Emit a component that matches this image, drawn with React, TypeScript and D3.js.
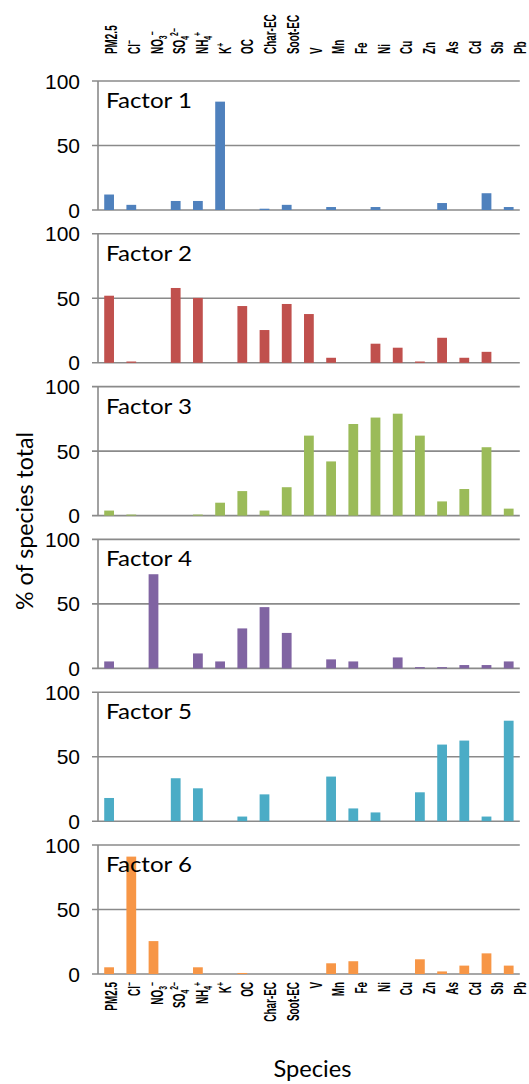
import React, { useEffect, useRef } from "react";
import * as d3 from "d3";

// species in chart order
const species = ["PM2.5", "Cl-", "NO3-", "SO42-", "NH4+", "K+", "OC", "Char-EC", "Soot-EC", "V", "Mn", "Fe", "Ni", "Cu", "Zn", "As", "Cd", "Sb", "Pb"];

// label pieces (sub / superscripts) for each species
type Seg = { t: string; k?: "sub" | "sup" };
const speciesLabels: Seg[][] = [
  [{ t: "PM2.5" }],
  [{ t: "Cl" }, { t: "\u2212", k: "sup" }],
  [{ t: "NO" }, { t: "3", k: "sub" }, { t: "\u2212", k: "sup" }],
  [{ t: "SO" }, { t: "4", k: "sub" }, { t: "2\u2212", k: "sup" }],
  [{ t: "NH" }, { t: "4", k: "sub" }, { t: "+", k: "sup" }],
  [{ t: "K" }, { t: "+", k: "sup" }],
  [{ t: "OC" }],
  [{ t: "Char-EC" }],
  [{ t: "Soot-EC" }],
  [{ t: "V" }],
  [{ t: "Mn" }],
  [{ t: "Fe" }],
  [{ t: "Ni" }],
  [{ t: "Cu" }],
  [{ t: "Zn" }],
  [{ t: "As" }],
  [{ t: "Cd" }],
  [{ t: "Sb" }],
  [{ t: "Pb" }],
];

const factorNames = ["Factor 1", "Factor 2", "Factor 3", "Factor 4", "Factor 5", "Factor 6"];
const factorColors = ["#4f81bd", "#c0504d", "#9bbb59", "#8064a2", "#4bacc6", "#f79646"];

// % of species total, one value per species
const factor1 = [12, 4, 0, 7, 7, 84, 0, 1, 4, 0, 2.3, 0, 2.3, 0, 0, 5.4, 0, 13, 2.3];
const factor2 = [52, 1, 0, 58, 50.3, 0, 44, 25.4, 45.6, 37.8, 3.9, 0, 14.8, 11.7, 1, 19.4, 3.9, 8.5, 0];
const factor3 = [3.9, 0.8, 0, 0, 0.8, 10, 19, 3.9, 22, 62, 42, 71, 76, 79, 62, 11, 20.6, 53, 5.4];
const factor4 = [5.4, 0, 73, 0, 11.6, 5.4, 31, 47.5, 27.5, 0, 7, 5.4, 0, 8.5, 1, 1, 2.6, 2.6, 5.4];
const factor5 = [18, 0, 0, 33.3, 25.5, 0, 3.6, 20.8, 0, 0, 34.6, 9.9, 6.8, 0, 22.4, 59.4, 62.5, 3.6, 77.9];
const factor6 = [5.2, 91, 25.5, 0, 5.2, 0, 0.8, 0, 0, 0, 8.3, 9.9, 0, 0, 11.4, 2, 6.5, 16, 6.5];
const factorValues = [factor1, factor2, factor3, factor4, factor5, factor6];

const yTicks = [0, 50, 100];

const GRID = "#8a8a8a";
const CALIBRI = "Lato, 'Open Sans', sans-serif";
const ARIAL = "'Liberation Sans', Arial, sans-serif";

function addLabel(sel: d3.Selection<SVGTextElement, unknown, null, undefined>, segs: Seg[]) {
  let shift = 0;
  segs.forEach((s) => {
    const target = s.k === "sub" ? 4 : s.k === "sup" ? -7 : 0;
    sel
      .append("tspan")
      .attr("dy", target - shift)
      .attr("font-size", s.k ? 11 : 16)
      .text(s.t);
    shift = target;
  });
}

export default function App() {
  const svgRef = useRef<SVGSVGElement>(null);

  useEffect(() => {
    const svg = d3.select(svgRef.current);
    svg.selectAll("*").remove();

    const left = 98;
    const right = 519.8;
    const firstTop = 81;
    const panelStep = 152.8;
    const panelH = 129;

    const x = d3.scaleBand<string>().domain(species).range([left, right]).padding(0);
    const barW = x.bandwidth() * 0.44;
    // category labels sit on a slightly wider spacing than the bars
    const labelX = d3.scalePoint<string>().domain(species).range([111.7, 520.5]);

    factorValues.forEach((vals, i) => {
      const top = firstTop + i * panelStep;
      const y = d3.scaleLinear().domain([0, 100]).range([top + panelH, top]);
      const g = svg.append("g");

      // gridlines + ticks
      g.selectAll("line.grid")
        .data(yTicks)
        .join("line")
        .attr("x1", left - 6)
        .attr("x2", right)
        .attr("y1", (d) => y(d))
        .attr("y2", (d) => y(d))
        .attr("stroke", GRID)
        .attr("stroke-width", 1.6);

      g.append("line")
        .attr("x1", left)
        .attr("x2", left)
        .attr("y1", y(100))
        .attr("y2", y(0))
        .attr("stroke", GRID)
        .attr("stroke-width", 1.6);

      g.selectAll("text.tick")
        .data(yTicks)
        .join("text")
        .attr("x", 80)
        .attr("y", (d) => y(d))
        .attr("dy", "0.36em")
        .attr("text-anchor", "end")
        .attr("font-family", ARIAL)
        .attr("font-size", 21)
        .attr("fill", "#000")
        .text((d) => d);

      // bars
      g.selectAll("rect")
        .data(vals)
        .join("rect")
        .attr("x", (_, j) => x(species[j])! + x.bandwidth() / 2 - barW / 2)
        .attr("width", barW)
        .attr("y", (d) => y(d))
        .attr("height", (d) => y(0) - y(d))
        .attr("fill", factorColors[i]);

      g.append("text")
        .attr("x", 106)
        .attr("y", top + 27)
        .attr("font-family", CALIBRI)
        .attr("font-size", 21)
        .attr("textLength", 86)
        .attr("lengthAdjust", "spacingAndGlyphs")
        .attr("fill", "#000")
        .text(factorNames[i]);
    });

    // category labels, top and bottom
    species.forEach((s, j) => {
      const cx = labelX(s)! + 5.5;
      const topLbl = svg
        .append("text")
        .attr("transform", `translate(${cx},54) rotate(-90) scale(0.62,1)`)
        .attr("text-anchor", "start")
        .attr("font-family", ARIAL)
        .attr("font-weight", "bold")
        .attr("fill", "#000");
      addLabel(topLbl, speciesLabels[j]);

      const botLbl = svg
        .append("text")
        .attr("transform", `translate(${cx},982) rotate(-90) scale(0.62,1)`)
        .attr("text-anchor", "end")
        .attr("font-family", ARIAL)
        .attr("font-weight", "bold")
        .attr("fill", "#000");
      addLabel(botLbl, speciesLabels[j]);
    });

    // axis titles
    svg
      .append("text")
      .attr("transform", "translate(33,521) rotate(-90)")
      .attr("text-anchor", "middle")
      .attr("font-family", CALIBRI)
      .attr("font-size", 23)
      .attr("textLength", 178)
      .attr("lengthAdjust", "spacingAndGlyphs")
      .attr("fill", "#000")
      .text("% of species total");

    svg
      .append("text")
      .attr("x", 312.5)
      .attr("y", 1077)
      .attr("text-anchor", "middle")
      .attr("font-family", CALIBRI)
      .attr("font-size", 24)
      .attr("textLength", 78)
      .attr("lengthAdjust", "spacingAndGlyphs")
      .attr("fill", "#000")
      .text("Species");
  }, []);

  return (
    <svg
      ref={svgRef}
      width={529}
      height={1084}
      style={{ position: "absolute", left: 0, top: 0, background: "#fff" }}
    />
  );
}
